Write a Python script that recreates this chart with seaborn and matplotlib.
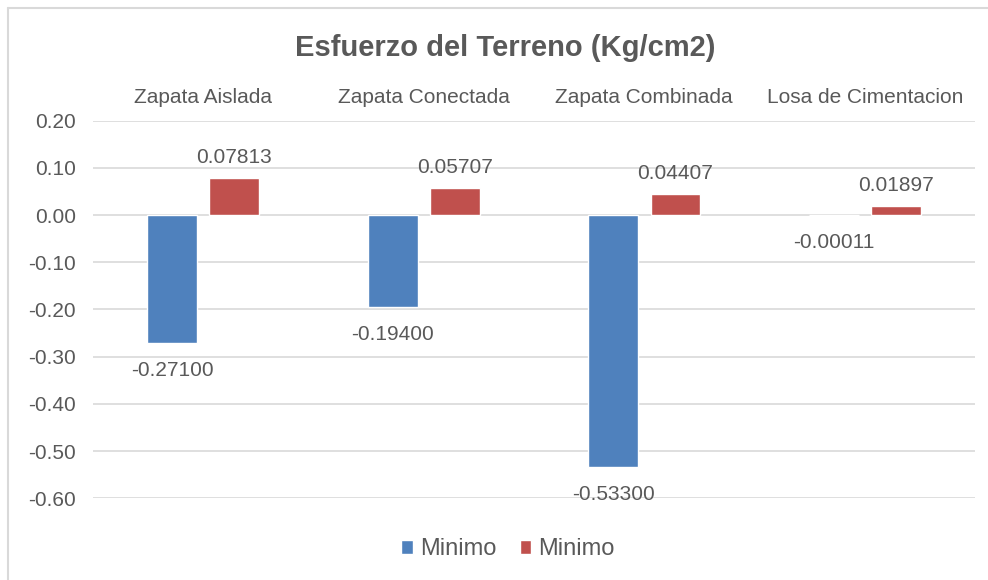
import matplotlib
matplotlib.use("Agg")
import matplotlib.pyplot as plt
from matplotlib.lines import Line2D
from matplotlib.patches import Patch
import seaborn as sns
import pandas as pd

categories = ["Zapata Aislada", "Zapata Conectada", "Zapata Combinada", "Losa de Cimentacion"]
series_a = [-0.27100, -0.19400, -0.53300, -0.00011]
series_b = [0.07813, 0.05707, 0.04407, 0.01897]
series_names = ["Minimo", "Minimo "]
yticks = [0.20, 0.10, 0.00, -0.10, -0.20, -0.30, -0.40, -0.50, -0.60]

BLUE = "#4F81BD"
RED = "#C0504D"
TEXT = "#595959"
GRID = "#D9D9D9"

df = pd.DataFrame({
    "categoria": categories * 2,
    "valor": series_a + series_b,
    "serie": [series_names[0]] * len(categories) + [series_names[1]] * len(categories),
})

sns.set_theme(style="white")
plt.rcParams["font.family"] = ["Liberation Sans", "DejaVu Sans"]

fig = plt.figure(figsize=(9.88, 5.80), dpi=100)
ax = fig.add_axes([0.094, 0.141, 0.893, 0.651])

sns.barplot(data=df, x="categoria", y="valor", hue="serie",
            palette=[BLUE, RED], width=0.564, gap=0.2,
            order=categories, hue_order=series_names,
            legend=False, ax=ax, saturation=1)

ax.set_ylim(-0.60, 0.20)
ax.set_xlim(-0.5, len(categories) - 0.5)
ax.set_yticks(yticks)
ax.set_yticklabels([f"{v:.2f}" for v in yticks], color=TEXT, fontsize=15)
ax.yaxis.grid(True, color=GRID, linewidth=1.2)
ax.set_axisbelow(True)
for s in ax.spines.values():
    s.set_visible(False)
ax.tick_params(axis="y", length=0, pad=12)

ax.xaxis.tick_top()
ax.tick_params(axis="x", length=0, pad=10, labelsize=15, labelcolor=TEXT)
ax.set_xlabel("")
ax.set_ylabel("")

# value labels: below negative bars, above positive ones
for cont in ax.containers:
    for bar in cont:
        h = bar.get_height()
        xc = bar.get_x() + bar.get_width() / 2
        top = max(bar.get_y(), bar.get_y() + h)
        bottom = min(bar.get_y(), bar.get_y() + h)
        if h >= 0:
            ax.annotate(f"{h:.5f}", (xc, top), xytext=(0, 8), textcoords="offset points",
                        ha="center", va="bottom", fontsize=15, color=TEXT)
        else:
            ax.annotate(f"{h:.5f}", (xc, bottom), xytext=(0, -13), textcoords="offset points",
                        ha="center", va="top", fontsize=15, color=TEXT)

fig.text(0.511, 0.918, "Esfuerzo del Terreno (Kg/cm2)", ha="center", va="center",
         fontsize=21, fontweight="bold", color=TEXT)

handles = [Patch(facecolor=BLUE), Patch(facecolor=RED)]
fig.legend(handles, ["Minimo", "Minimo"], loc="center", bbox_to_anchor=(0.514, 0.053),
           ncol=2, frameon=False, fontsize=17, labelcolor=TEXT,
           handlelength=0.5, handleheight=0.5, handletextpad=0.3, columnspacing=1.0)

# outer chart border
fig.add_artist(Line2D([0.0081, 1.0], [1 - 8 / 580, 1 - 8 / 580], color=GRID, linewidth=1.5,
                      transform=fig.transFigure))
fig.add_artist(Line2D([0.0081, 0.0081], [0.0, 1 - 8 / 580], color=GRID, linewidth=1.5,
                      transform=fig.transFigure))

fig.savefig("out.png", dpi=100, facecolor="white")
